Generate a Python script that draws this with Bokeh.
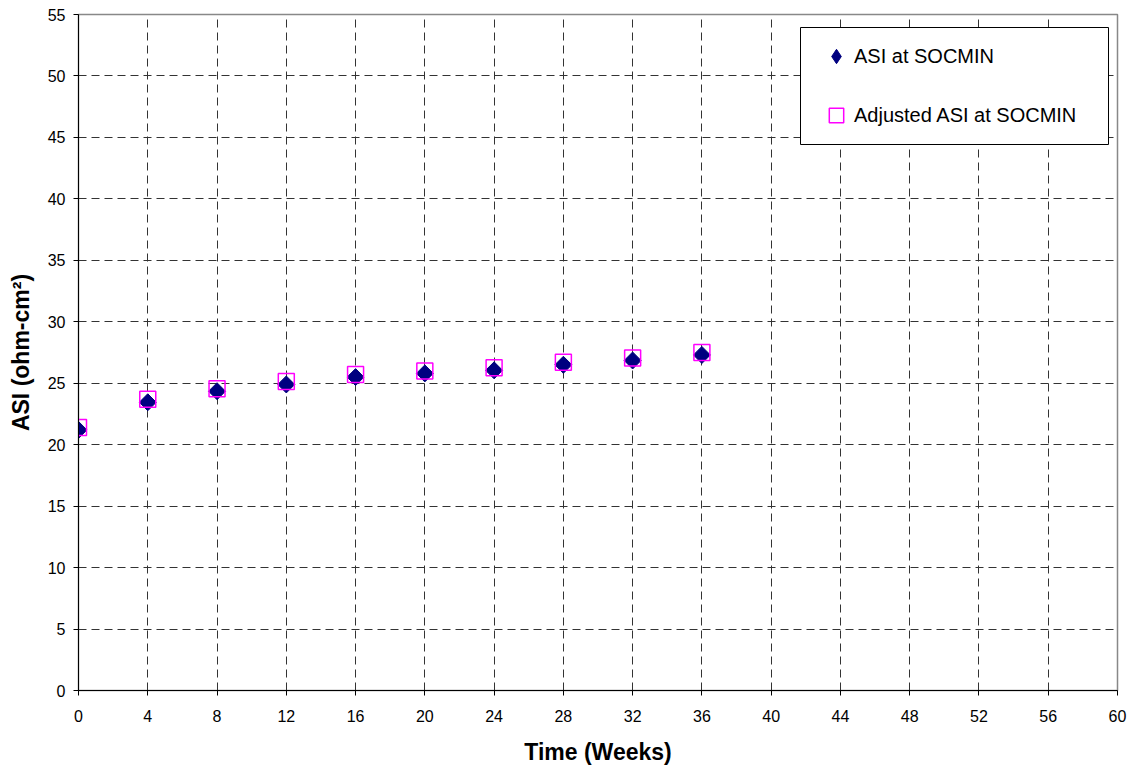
import math
from bokeh.plotting import figure
from bokeh.models import Range1d, FixedTicker, Legend, LegendItem, ColumnDataSource, BoxAnnotation
from bokeh.embed import file_html
from bokeh.resources import INLINE

weeks = [0, 4, 8, 12, 16, 20, 24, 28, 32, 36]
asi = [21.2, 23.45, 24.35, 24.9, 25.5, 25.8, 26.05, 26.5, 26.85, 27.3]
adj_asi = [21.4, 23.7, 24.55, 25.15, 25.7, 26.0, 26.25, 26.7, 27.05, 27.5]

x_ticks = list(range(0, 61, 4))
y_ticks = list(range(0, 56, 5))

FONT = "Liberation Sans"

p = figure(width=1127, height=766, output_backend="svg", toolbar_location=None,
           x_range=Range1d(0, 60), y_range=Range1d(0, 55),
           min_border_left=78, min_border_right=10, min_border_top=14, min_border_bottom=76)
p.frame_width = 1039
p.frame_height = 676

p.xaxis.ticker = FixedTicker(ticks=x_ticks)
p.yaxis.ticker = FixedTicker(ticks=y_ticks)
for ax in (p.xaxis[0], p.yaxis[0]):
    ax.major_label_text_font = FONT
    ax.major_label_text_font_size = "16px"
    ax.major_label_text_color = "black"
    ax.axis_label_text_font = FONT
    ax.axis_label_text_font_size = "23px"
    ax.axis_label_text_font_style = "bold"
    ax.axis_label_text_color = "black"
    ax.axis_line_color = "black"
    ax.major_tick_line_color = "black"
    ax.major_tick_in = 0
    ax.major_tick_out = 5
    ax.minor_tick_line_color = None
p.xaxis.axis_label = "Time (Weeks)"
p.yaxis.axis_label = "ASI (ohm-cm²)"
p.xaxis.major_label_standoff = 14
p.yaxis.major_label_standoff = 8
p.xaxis.axis_label_standoff = 14
p.yaxis.axis_label_standoff = 11

p.grid.grid_line_color = "#333333"
p.grid.grid_line_dash = "8 5"
p.grid.grid_line_width = 1
p.outline_line_color = "#888888"
p.outline_line_width = 1.5

src = ColumnDataSource(dict(x=weeks, a=asi, b=adj_asi))
r1 = p.scatter("x", "a", source=src, marker="square", size=12, angle=math.pi / 4,
               fill_color="#000080", line_color="#000080")
r2 = p.scatter("x", "b", source=src, marker="square", size=16,
               fill_color=None, line_color="#FF00FF", line_width=1.5)

# legend-only swatch glyph (not visible in the plot: NaN position)
nan_src = ColumnDataSource(dict(x=[float("nan")], y=[float("nan")]))
r1_leg = p.scatter("x", "y", source=nan_src, marker="diamond", size=16,
                   fill_color="#000080", line_color="#000080")

# legend frame box (screen units relative to the plot frame)
box = BoxAnnotation(left=722, right=1030, bottom=546, top=663,
                    left_units="screen", right_units="screen",
                    bottom_units="screen", top_units="screen",
                    fill_color="white", fill_alpha=1.0,
                    line_color="black", line_width=1, line_alpha=1.0)
p.add_layout(box)

legend = Legend(items=[LegendItem(label="ASI at SOCMIN", renderers=[r1_leg]),
                       LegendItem(label="Adjusted ASI at SOCMIN", renderers=[r2])],
                location=(740, 557))
legend.border_line_color = None
legend.background_fill_alpha = 0
legend.padding = 0
legend.margin = 0
legend.spacing = 23
legend.glyph_height = 36
legend.glyph_width = 36
legend.label_standoff = 0
legend.label_text_font = FONT
legend.label_text_font_size = "20px"
legend.label_text_color = "black"
p.add_layout(legend)

open("out.html", "w").write(file_html(p, INLINE))
